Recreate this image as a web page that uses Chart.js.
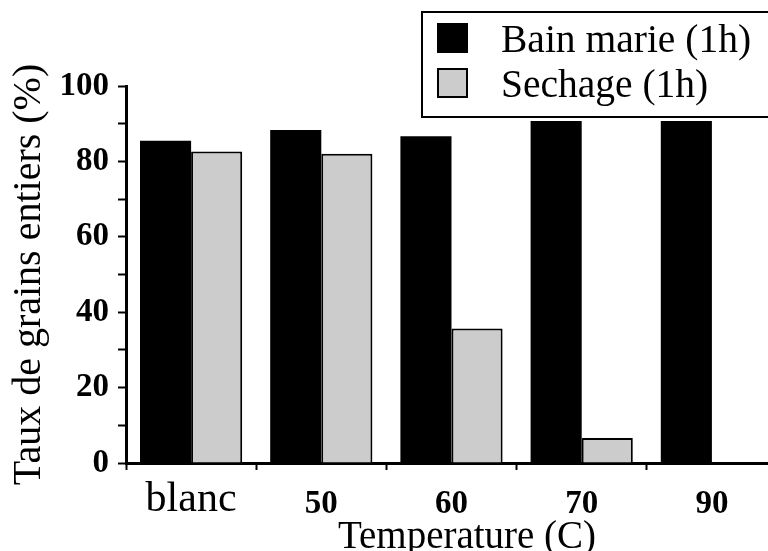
<!DOCTYPE html>
<html>
<head>
<meta charset="utf-8">
<script src="https://cdn.jsdelivr.net/npm/chart.js@4"></script>
<style>
html, body { margin: 0; padding: 0; overflow: hidden; background: #fff; width: 768px; height: 551px; }
#wrap { width: 790px; height: 551px; }
</style>
</head>
<body>
<div id="wrap"><canvas id="c" width="790" height="551"></canvas></div>
<script>
const categories = ['blanc', '50', '60', '70', '90'];
const bainMarie = [85.5, 88.3, 86.7, 90.7, 90.7];
const sechage = [82.6, 82.0, 35.7, 6.6, null];
const seriesLabels = ['Bain marie (1h)', 'Sechage (1h)'];
const seriesColors = ['#000000', '#cccccc'];
const xTitle = 'Temperature (C)';
const yTitle = 'Taux de grains entiers (%)';
const yMin = 0, yMax = 100, yStep = 10, yLabelEvery = 20;

const SERIF = "'Liberation Serif', 'Times New Roman', Times, serif";

const extras = {
  id: 'extras',
  afterDraw(chart) {
    const ctx = chart.ctx;
    ctx.save();
    // x axis title
    ctx.fillStyle = '#000';
    ctx.font = '39px ' + SERIF;
    ctx.textAlign = 'center';
    ctx.textBaseline = 'alphabetic';
    ctx.fillText(xTitle, 467, 548);
    // legend
    ctx.fillStyle = '#fff';
    ctx.fillRect(422, 12, 400, 105);
    ctx.strokeStyle = '#000';
    ctx.lineWidth = 2;
    ctx.strokeRect(422, 12, 400, 105);
    const rows = [{sy: 23, base: 52}, {sy: 68, base: 97}];
    chart.data.datasets.forEach((ds, i) => {
      const r = rows[i];
      ctx.fillStyle = ds.backgroundColor;
      ctx.fillRect(437, r.sy, 31, 30);
      if (ds.borderWidth) {
        ctx.strokeStyle = '#000';
        ctx.lineWidth = 2;
        ctx.strokeRect(438, r.sy + 1, 29, 28);
      }
      ctx.fillStyle = '#000';
      ctx.font = '39.5px ' + SERIF;
      ctx.textBaseline = 'alphabetic';
      ctx.textAlign = 'left';
      ctx.fillText(ds.label, 501, r.base);
    });
    ctx.restore();
  }
};

new Chart(document.getElementById('c'), {
  type: 'bar',
  data: {
    labels: categories,
    datasets: [
      { label: seriesLabels[0], data: bainMarie, backgroundColor: seriesColors[0], borderWidth: 0 },
      { label: seriesLabels[1], data: sechage, backgroundColor: seriesColors[1], borderColor: '#000', borderWidth: 2 }
    ]
  },
  options: {
    responsive: false,
    animation: false,
    events: [],
    categoryPercentage: 0.785,
    barPercentage: 1.0,
    layout: { padding: { top: 86, right: 13, bottom: 0, left: 0 } },
    plugins: { legend: { display: false }, tooltip: { enabled: false } },
    scales: {
      x: {
        afterFit: s => { s.height = 88; },
        border: { display: true, color: '#000', width: 3 },
        grid: { display: true, drawOnChartArea: false, drawTicks: true, tickLength: 7, tickWidth: 2, tickColor: '#000', offset: true },
        ticks: {
          autoSkip: false, maxRotation: 0, minRotation: 0, padding: 4, color: '#000',
          font: ctx => ctx.index === 0
            ? { family: SERIF, size: 42, weight: 'normal', lineHeight: 1.24 }
            : { family: SERIF, size: 33, weight: 'bold', lineHeight: 1.82 }
        },
        title: { display: false }
      },
      y: {
        min: yMin, max: yMax,
        afterFit: s => { s.width = 126; },
        border: { display: true, color: '#000', width: 3 },
        grid: { display: true, drawOnChartArea: false, drawTicks: true, tickLength: 8, tickWidth: 2, tickColor: '#000' },
        ticks: {
          stepSize: yStep, autoSkip: false, padding: 9, color: '#000',
          font: { family: SERIF, size: 33, weight: 'bold' },
          callback: v => (v % yLabelEvery === 0 ? String(v) : '')
        },
        title: { display: true, text: yTitle, color: '#000', font: { family: SERIF, size: 40, lineHeight: 1 }, padding: { top: 9, bottom: 0 } }
      }
    }
  },
  plugins: [extras]
});
</script>
</body>
</html>
